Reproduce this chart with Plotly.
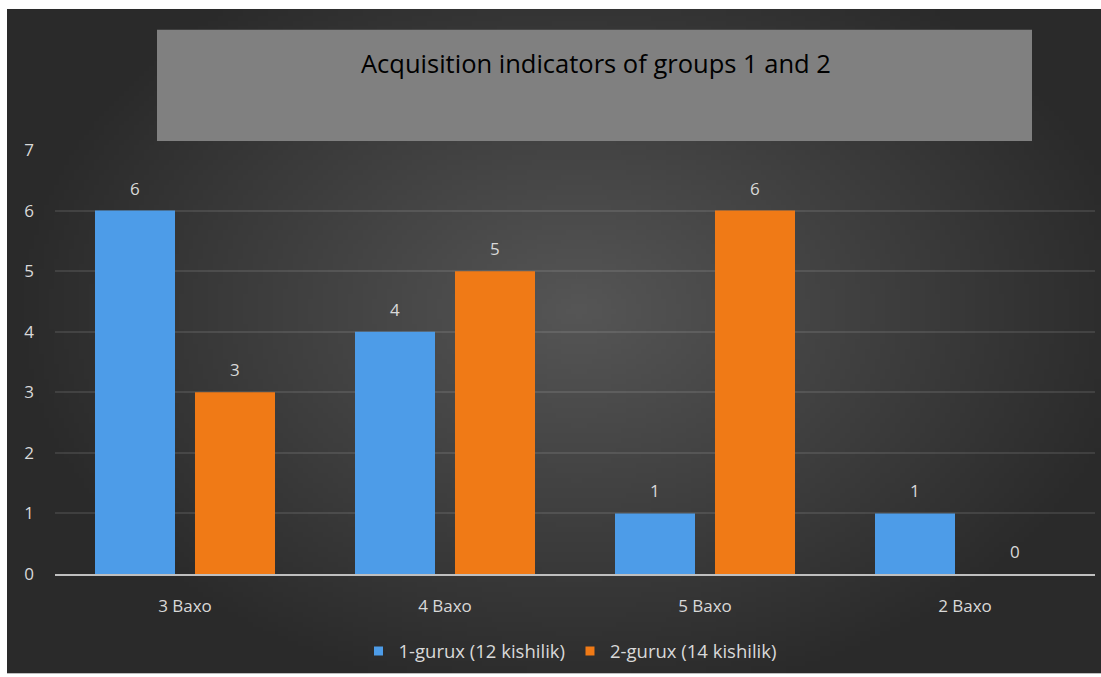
import base64, struct, zlib
import plotly.graph_objects as go

categories = ["3 Baxo", "4 Baxo", "5 Baxo", "2 Baxo"]
group1_name = "1-gurux (12 kishilik)"
group2_name = "2-gurux (14 kishilik)"
group1 = [6, 4, 1, 1]
group2 = [3, 5, 6, 0]
y_ticks = [0, 1, 2, 3, 4, 5, 6, 7]
title_text = "Acquisition indicators of groups 1 and 2"

W, H = 1101, 677
L, R, T, B = 55, 6, 150, 100
PW, PH = W - L - R, H - T - B


def px_x(p):
    return (p - L) / PW


def px_y(p):
    return (H - B - p) / PH


def radial_png(w, h):
    raw = b""
    cx, cy = w * 0.52, h * 0.45
    for j in range(h):
        row = bytearray([0])
        for i in range(w):
            dx = (i - cx) / (w * 0.52)
            dy = (j - cy) / (h * 0.6)
            d = min(1.0, (dx * dx + dy * dy) ** 0.5)
            v = int(86 - 44 * d ** 1.0)
            row += bytes([v, v, v])
        raw += bytes(row)

    def chunk(tag, data):
        c = struct.pack(">I", len(data)) + tag + data
        return c + struct.pack(">I", zlib.crc32(tag + data) & 0xFFFFFFFF)

    png = b"\x89PNG\r\n\x1a\n"
    png += chunk(b"IHDR", struct.pack(">IIBBBBB", w, h, 8, 2, 0, 0, 0))
    png += chunk(b"IDAT", zlib.compress(raw, 9))
    png += chunk(b"IEND", b"")
    return "data:image/png;base64," + base64.b64encode(png).decode()


bg = radial_png(220, 134)

FONT = "Open Sans"
TXT = "#d9d9d9"
BLUE = "#4d9ce8"
ORANGE = "#f07a16"

fig = go.Figure()
fig.add_trace(go.Bar(x=categories, y=group1, name=group1_name, showlegend=False,
                     marker=dict(color=BLUE, line=dict(width=0))))
fig.add_trace(go.Bar(x=categories, y=group2, name=group2_name, showlegend=False,
                     marker=dict(color=ORANGE, line=dict(width=0))))
# legend entries (small square swatches)
fig.add_trace(go.Scatter(x=[None], y=[None], mode="markers", name=group1_name,
                         marker=dict(symbol="square", size=9, color=BLUE)))
fig.add_trace(go.Scatter(x=[None], y=[None], mode="markers", name=group2_name,
                         marker=dict(symbol="square", size=9, color=ORANGE)))

annotations = []
for vals, shift in ((group1, -50), (group2, 50)):
    for c, v in zip(categories, vals):
        annotations.append(dict(x=c, y=v, xref="x", yref="y", text=str(v), showarrow=False,
                                xshift=shift, yshift=9, yanchor="bottom",
                                font=dict(family=FONT, size=17, color=TXT)))

annotations.append(dict(x=px_x(596), y=px_y(62), xref="paper", yref="paper", text=title_text,
                        showarrow=False, xanchor="center", yanchor="middle",
                        font=dict(family=FONT, size=25.5, color="#000000")))

fig.update_layout(
    width=W, height=H,
    margin=dict(l=L, r=R, t=T, b=B),
    paper_bgcolor="#ffffff",
    plot_bgcolor="rgba(0,0,0,0)",
    barmode="group",
    bargap=0.2308,
    bargroupgap=0.2,
    showlegend=True,
    legend=dict(orientation="h", x=px_x(570), y=px_y(655), xanchor="center", yanchor="middle",
                font=dict(family=FONT, size=18.5, color=TXT), bgcolor="rgba(0,0,0,0)",
                itemwidth=30, tracegroupgap=0),
    images=[dict(source=bg, xref="paper", yref="paper", x=px_x(7), y=px_y(8),
                 sizex=(W - 7) / PW, sizey=(H - 8) / PH, xanchor="left", yanchor="top",
                 sizing="stretch", layer="below")],
    shapes=[dict(type="rect", xref="paper", yref="paper", x0=px_x(157), x1=px_x(1032),
                 y0=px_y(141), y1=px_y(29), fillcolor="#808080", line=dict(width=0), layer="above")],
    annotations=annotations,
    xaxis=dict(showgrid=False, showline=True, linecolor="#bfbfbf", linewidth=2,
               ticks="", tickfont=dict(family=FONT, size=17, color=TXT),
               ticklabelstandoff=16, fixedrange=True),
    yaxis=dict(range=[0, 7], tickvals=y_ticks, showgrid=True, gridcolor="rgba(255,255,255,0.1)",
               gridwidth=2, zeroline=False, showline=False, ticks="",
               tickfont=dict(family=FONT, size=17, color=TXT), ticklabelstandoff=20,
               fixedrange=True),
)

fig.write_html("out.html")
